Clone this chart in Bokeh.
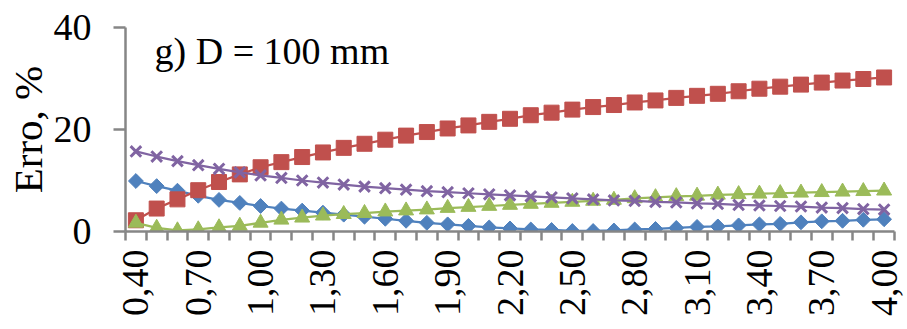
from math import pi
from bokeh.plotting import figure
from bokeh.models import Range1d, FixedTicker, Label
from bokeh.embed import file_html
from bokeh.resources import INLINE

categories = ["0,40", "0,50", "0,60", "0,70", "0,80", "0,90", "1,00", "1,10", "1,20", "1,30",
              "1,40", "1,50", "1,60", "1,70", "1,80", "1,90", "2,00", "2,10", "2,20", "2,30",
              "2,40", "2,50", "2,60", "2,70", "2,80", "2,90", "3,00", "3,10", "3,20", "3,30",
              "3,40", "3,50", "3,60", "3,70", "3,80", "3,90", "4,00"]

blue = [9.9, 8.9, 8.0, 7.0, 6.2, 5.6, 5.0, 4.5, 4.1, 3.7, 3.3, 2.9, 2.5, 2.1, 1.7, 1.4, 1.1,
        0.8, 0.6, 0.4, 0.3, 0.1, 0.1, 0.2, 0.4, 0.5, 0.7, 0.9, 1.0, 1.2, 1.4, 1.5, 1.8, 2.0,
        2.1, 2.3, 2.4]
red = [2.2, 4.5, 6.3, 8.1, 9.7, 11.2, 12.6, 13.6, 14.6, 15.5, 16.4, 17.2, 18.0, 18.8, 19.5,
       20.2, 20.8, 21.5, 22.1, 22.8, 23.3, 23.9, 24.4, 24.8, 25.3, 25.7, 26.2, 26.6, 27.0,
       27.5, 28.0, 28.4, 28.8, 29.2, 29.6, 29.9, 30.2]
green = [1.7, 0.7, 0.2, 0.4, 0.8, 1.1, 1.7, 2.3, 2.7, 3.1, 3.4, 3.6, 3.9, 4.1, 4.3, 4.6, 4.8,
         5.0, 5.2, 5.4, 5.6, 5.8, 6.0, 6.2, 6.5, 6.7, 6.9, 7.0, 7.2, 7.3, 7.4, 7.5, 7.6, 7.7,
         7.8, 7.9, 8.0]
purple = [15.7, 14.7, 13.8, 13.0, 12.3, 11.6, 11.0, 10.5, 10.0, 9.6, 9.2, 8.8, 8.5, 8.2, 7.9,
          7.7, 7.5, 7.3, 7.1, 6.9, 6.7, 6.5, 6.3, 6.1, 6.0, 5.8, 5.7, 5.5, 5.4, 5.2, 5.1, 5.0,
          4.9, 4.7, 4.6, 4.4, 4.3]

y_ticks = [0, 20, 40]
label_step = 3
panel_title = "g) D = 100 mm"
y_title = "Erro, %"

FONT = "Liberation Serif"
AXIS_GRAY = "#868686"

x = list(range(len(categories)))

p = figure(width=907, height=329, output_backend="svg", toolbar_location=None,
           x_range=Range1d(-0.5, len(categories) - 0.5), y_range=Range1d(0, 40),
           min_border_left=125, min_border_right=13, min_border_top=27, min_border_bottom=98)
p.outline_line_color = None
p.xgrid.visible = False
p.ygrid.visible = False
p.background_fill_color = "white"
p.border_fill_color = "white"

# x axis: labels every 3rd category, tick marks between categories
xa = p.xaxis[0]
xa.ticker = FixedTicker(ticks=x[::label_step],
                        minor_ticks=[i - 0.5 for i in range(len(categories) + 1)])
xa.major_label_overrides = {i: categories[i] for i in x[::label_step]}
xa.major_label_orientation = pi / 2
xa.major_tick_line_color = None
xa.major_tick_out = 8
xa.major_tick_in = 0
xa.minor_tick_out = 9
xa.minor_tick_in = 0
xa.minor_tick_line_color = AXIS_GRAY
xa.minor_tick_line_width = 2.5
xa.axis_line_color = AXIS_GRAY
xa.axis_line_width = 2.5
xa.major_label_text_font = FONT
xa.major_label_text_font_size = "38px"
xa.major_label_text_color = "black"
xa.major_label_standoff = 9

ya = p.yaxis[0]
ya.ticker = FixedTicker(ticks=y_ticks)
ya.major_tick_out = 12
ya.major_tick_in = 0
ya.minor_tick_line_color = None
ya.major_tick_line_color = AXIS_GRAY
ya.major_tick_line_width = 2.5
ya.axis_line_color = AXIS_GRAY
ya.axis_line_width = 2.5
ya.major_label_text_font = FONT
ya.major_label_text_font_size = "38px"
ya.major_label_text_color = "black"
ya.major_label_standoff = 22
ya.axis_label = y_title
ya.axis_label_text_font = FONT
ya.axis_label_text_font_size = "41px"
ya.axis_label_text_font_style = "normal"
ya.axis_label_text_color = "black"
ya.axis_label_standoff = 0

LW = 2.25
SZ = 14

# blue diamonds
p.line(x, blue, line_color="#4F81BD", line_width=LW)
p.scatter(x, blue, marker="square", angle=pi / 4, size=10.5, fill_color="#4F81BD",
          line_color="#4F81BD")
# red squares
p.line(x, red, line_color="#C0504D", line_width=LW)
p.scatter(x, red, marker="square", size=SZ + 1, fill_color="#C0504D", line_color="#C0504D")
# green triangles
p.line(x, green, line_color="#9BBB59", line_width=LW)
p.scatter(x, green, marker="triangle", size=SZ + 1, fill_color="#9BBB59", line_color="#9BBB59")
# purple crosses
p.line(x, purple, line_color="#8064A2", line_width=LW)
p.scatter(x, purple, marker="x", size=SZ + 1, line_color="#8064A2", line_width=3)

p.add_layout(Label(x=0.9, y=35.4, text=panel_title, text_font=FONT, text_font_size="38px",
                   text_color="black", text_align="left", text_baseline="alphabetic"))

open("out.html", "w").write(file_html(p, INLINE))
